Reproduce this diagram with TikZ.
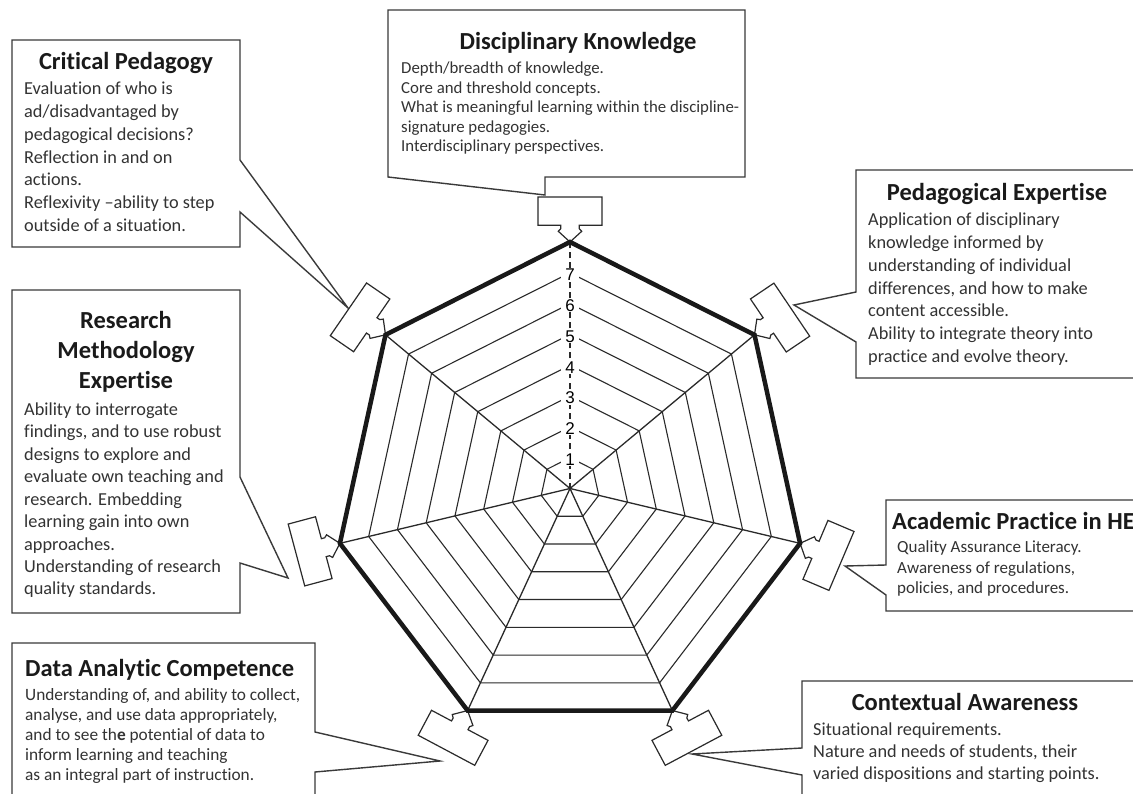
\documentclass[tikz,border=0pt]{standalone}
\usepackage{fontspec}
\setmainfont{Carlito}[Ligatures=NoCommon]
\newfontfamily\numfont{Liberation Sans}
\usetikzlibrary{calc}
\definecolor{ink}{HTML}{1A1A1A}
\definecolor{bodyc}{HTML}{333333}
\definecolor{edge}{HTML}{3A3A3A}
\definecolor{web}{HTML}{2A2A2A}
\newcommand\tbl[1]{\begin{tabular}[t]{@{}l@{}}#1\end{tabular}}
\newcommand\tbc[1]{\begin{tabular}[t]{@{}c@{}}#1\end{tabular}}
\tikzset{
  boxline/.style={draw=edge, line width=1.4pt, fill=white, line join=miter},
  ptrline/.style={draw=web, line width=1.2pt, fill=white, line join=miter},
  gridline/.style={draw=web, line width=1.1pt},
  spoke/.style={draw=web, line width=1.3pt},
  axisline/.style={draw=web, line width=1.3pt, dash pattern=on 6pt off 4pt},
  outerline/.style={draw=black!90, line width=4.5pt, line join=miter},
  lvl/.style={font=\numfont\fontsize{17}{18}\selectfont, text=black, fill=white, inner xsep=4.5pt, inner ysep=0.5pt},
  ttl/.style={font=\fontsize{24.5}{30}\selectfont\bfseries, text=ink, inner sep=0pt, anchor=base},
  ttlw/.style={ttl, anchor=base west},
  bodyA/.style={font=\fontsize{18.3}{22.7}\selectfont, text=bodyc, inner sep=0pt, anchor=base west},
  bodyB/.style={font=\fontsize{16.8}{19.4}\selectfont, text=bodyc, inner sep=0pt, anchor=base west},
  ptrpic/.pic={\draw[ptrline] (0,0) -- (-10.7,11.7) -- (-13.3,9.3) -- (-16.7,9.3) -- (-16.7,32) -- (-45,32) -- (-45,-32) -- (-16.7,-32) -- (-16.7,-9.3) -- (-13.3,-9.3) -- (-10.7,-11.7) -- cycle;}
}
\begin{document}
\begin{tikzpicture}[x=1pt, y=-1pt]
\useasboundingbox (0,0) rectangle (1133,794);
\fill[white] (0,0) rectangle (1133,794);
\clip (0,0) rectangle (1133,794);

% radar coordinates
\coordinate (C) at (570,488.5);
\foreach \l in {1,...,8}
  \foreach \k in {0,...,6}
    \coordinate (L\l-\k) at ({570+29.5*\l*cos(90+\k*360/7)}, {488.5-30.8125*\l*sin(90+\k*360/7)});

% callout boxes
\coordinate (dkT) at (545,195);
\coordinate (cpT) at (348,308);
\coordinate (peT) at (794,305);
\coordinate (rmT) at (288,578);
\coordinate (apT) at (845,566);
\coordinate (daT) at (440,761);
\coordinate (caT) at (692,754);

\draw[boxline] (388,10) -- (745,10) -- (745,177) -- (545,177) -- (dkT) -- (388,177) -- cycle;
\draw[boxline] (12,40) -- (240,40) -- (240,160) -- (cpT) -- (240,212) -- (240,247) -- (12,247) -- cycle;
\draw[boxline] (856,170) -- (1145,170) -- (1145,378) -- (856,378) -- (856,342) -- (peT) -- (856,292) -- cycle;
\draw[boxline] (12,290) -- (240,290) -- (240,477) -- (rmT) -- (240,563) -- (240,613) -- (12,613) -- cycle;
\draw[boxline] (886,500) -- (1145,500) -- (1145,611) -- (886,611) -- (886,595) -- (apT) -- (886,565) -- cycle;
\draw[boxline] (12,643) -- (315,643) -- (315,732) -- (daT) -- (315,772) -- (315,805) -- (12,805) -- cycle;
\draw[boxline] (802,681) -- (1145,681) -- (1145,805) -- (802,805) -- (802,775) -- (caT) -- (802,748) -- cycle;

% pointer shapes at the vertices
\pic[rotate=-90] (p0) at (L8-0) {ptrpic};
\pic[rotate=-34.5] (p1) at (L8-1) {ptrpic};
\pic[rotate=15] (p2) at (L8-2) {ptrpic};
\pic[rotate=62] (p3) at (L8-3) {ptrpic};
\pic[rotate=118] (p4) at (L8-4) {ptrpic};
\pic[rotate=157] (p5) at (L8-5) {ptrpic};
\pic[rotate=-146] (p6) at (L8-6) {ptrpic};

% radar web
\foreach \l in {1,...,7}
  \draw[gridline] (L\l-0) \foreach \k in {1,...,6}{ -- (L\l-\k)} -- cycle;
\foreach \k in {1,...,6}
  \draw[spoke] (C) -- (L8-\k);
\draw[axisline] (C) -- (L8-0);
\draw[outerline] (L8-0) \foreach \k in {1,...,6}{ -- (L8-\k)} -- cycle;
\foreach \l in {1,...,7}
  \node[lvl] (n\l) at ($(L\l-0)+(0,2)$) {\l};

% texts
\node[ttl] (dkH) at (578,50) {Disciplinary Knowledge};
\node[bodyB] (dkB) at (401,74) {\tbl{Depth/breadth of knowledge.\\Core and threshold concepts.\\What is meaningful learning within the discipline-\\signature pedagogies.\\Interdisciplinary perspectives.}};

\node[ttl] (cpH) at (126,70) {Critical Pedagogy};
\node[bodyA] (cpB) at (24,95) {\tbl{Evaluation of who is\\ad/disadvantaged by\\pedagogical decisions?\\Reflection in and on\\actions.\\Reflexivity –ability to step\\outside of a situation.}};

\node[ttl] (peH) at (997,200.5) {Pedagogical Expertise};
\node[bodyA] (peB) at (868,226) {\tbl{Application of disciplinary\\knowledge informed by\\understanding of individual\\differences, and how to make\\content accessible.\\Ability to integrate theory into\\practice and evolve theory.}};

\node[ttl] (rmH) at (126,329) {\tbc{Research\\Methodology\\Expertise}};
\node[bodyA, font=\fontsize{18.3}{22.5}\selectfont] (rmB) at (24,415) {\tbl{Ability to interrogate\\findings, and to use robust\\designs to explore and\\evaluate own teaching and\\research. Embedding\\learning gain into own\\approaches.\\Understanding of research\\quality standards.}};

\node[ttlw] (apH) at (892,529.3) {Academic Practice in HE};
\node[bodyB, font=\fontsize{17}{20.3}\selectfont] (apB) at (897,552.7) {\tbl{Quality Assurance Literacy.\\Awareness of regulations,\\policies, and procedures.}};

\node[ttlw] (daH) at (25,676) {Data Analytic Competence};
\node[bodyB, font=\fontsize{17.3}{20}\selectfont] (daB) at (25,700) {\tbl{Understanding of, and ability to collect,\\analyse, and use data appropriately,\\and to see th\textbf{e} potential of data to\\inform learning and teaching\\as an integral part of instruction.}};

\node[ttl] (caH) at (965,710.7) {Contextual Awareness};
\node[bodyA, font=\fontsize{18.3}{22}\selectfont] (caB) at (813,735) {\tbl{Situational requirements.\\Nature and needs of students, their\\varied dispositions and starting points.}};
\end{tikzpicture}
\end{document}
